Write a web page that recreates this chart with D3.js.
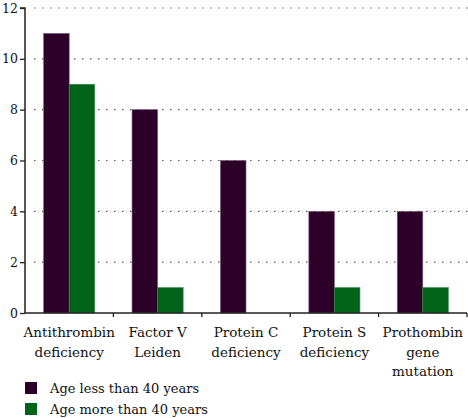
<!DOCTYPE html>
<html><head><meta charset="utf-8">
<script src="https://cdn.jsdelivr.net/npm/d3@7"></script>
<style>body{margin:0;background:#fff;}</style>
</head><body>
<svg id="c" width="468" height="418"></svg>
<script>
const categories = [["Antithrombin","deficiency"],["Factor V","Leiden"],["Protein C","deficiency"],["Protein S","deficiency"],["Prothombin","gene","mutation"]];
const seriesNames = ["Age less than 40 years","Age more than 40 years"];
const under40 = [11, 8, 6, 4, 4];
const over40 = [9, 1, 0, 1, 1];
const yTicks = [0, 2, 4, 6, 8, 10, 12];
const colors = ["#2d0029", "#00631a"];

(function(){
const FONT = "DejaVu Serif";
const FS = 13.5;
const svg = d3.select("#c");
const mLeft = 25, mRight = 467, mTop = 8, mBottom = 313;
const keys = categories.map((c, i) => i);
const x = d3.scaleBand().domain(keys).range([mLeft, mRight]).paddingInner(0).paddingOuter(0);
const inner = d3.scaleBand().domain([0, 1]).range([0, x.bandwidth()]).paddingOuter(0.73).paddingInner(0);
const y = d3.scaleLinear().domain([0, 12]).range([mBottom, mTop]);

svg.append("g").selectAll("line").data(yTicks.filter(d => d > 0)).join("line")
  .attr("x1", mLeft + 9).attr("x2", 468)
  .attr("y1", d => y(d)).attr("y2", d => y(d))
  .attr("stroke", "#555").attr("stroke-width", 1.2)
  .attr("stroke-dasharray", "1.5,6.5");

const data = [under40, over40];
const g = svg.append("g");
data.forEach((vals, s) => {
  g.selectAll(null).data(vals).join("rect")
    .attr("x", (d, i) => x(i) + inner(s))
    .attr("width", inner.bandwidth())
    .attr("y", d => y(d))
    .attr("height", d => mBottom - y(d))
    .attr("fill", colors[s])
    .attr("stroke", d => d > 0 ? (s === 0 ? "#7a5a78" : "#3f8a50") : "none")
    .attr("stroke-width", 0.6);
});

const yAxis = d3.axisLeft(y).tickValues(yTicks).tickSize(5).tickPadding(2).tickFormat(d3.format("d"));
const ya = svg.append("g").attr("transform", `translate(${mLeft},0)`).call(yAxis);
ya.attr("font-family", FONT).attr("font-size", 12.5);
ya.select(".domain").attr("stroke", "#222").attr("stroke-width", 1.5).attr("d", `M-5,${mTop}H0V${mBottom}`);
ya.selectAll(".tick line").attr("stroke", "#222").attr("stroke-width", 1.3);
ya.selectAll("text").attr("fill", "#111");

const xa = svg.append("g").attr("transform", `translate(0,${mBottom})`);
xa.append("line").attr("x1", mLeft).attr("x2", mRight).attr("y1", 0).attr("y2", 0).attr("stroke", "#222").attr("stroke-width", 1.5);
const bounds = d3.range(categories.length + 1).map(i => mLeft + i * x.step());
xa.selectAll(".t").data(bounds.slice(1)).join("line").attr("class", "t")
  .attr("x1", d => d).attr("x2", d => d).attr("y1", 0).attr("y2", 4)
  .attr("stroke", "#222").attr("stroke-width", 1.3);
const labels = xa.selectAll(".lab").data(categories).join("text").attr("class", "lab")
  .attr("x", (d, i) => x(i) + x.bandwidth() / 2).attr("y", 24)
  .attr("text-anchor", "middle").attr("font-family", FONT).attr("font-size", FS).attr("fill", "#111");
labels.each(function(d) {
  const t = d3.select(this);
  d.forEach((line, j) => t.append("tspan").attr("x", t.attr("x")).attr("dy", j === 0 ? 0 : 19.5).text(line));
});

const lg = svg.append("g");
seriesNames.forEach((n, i) => {
  lg.append("rect").attr("x", 25).attr("y", 382 + i * 21).attr("width", 12).attr("height", 12).attr("fill", colors[i]);
  lg.append("text").attr("x", 50).attr("y", 393 + i * 21).attr("font-family", FONT).attr("font-size", 13).attr("fill", "#111").text(n);
});
})();
</script>
</body></html>
